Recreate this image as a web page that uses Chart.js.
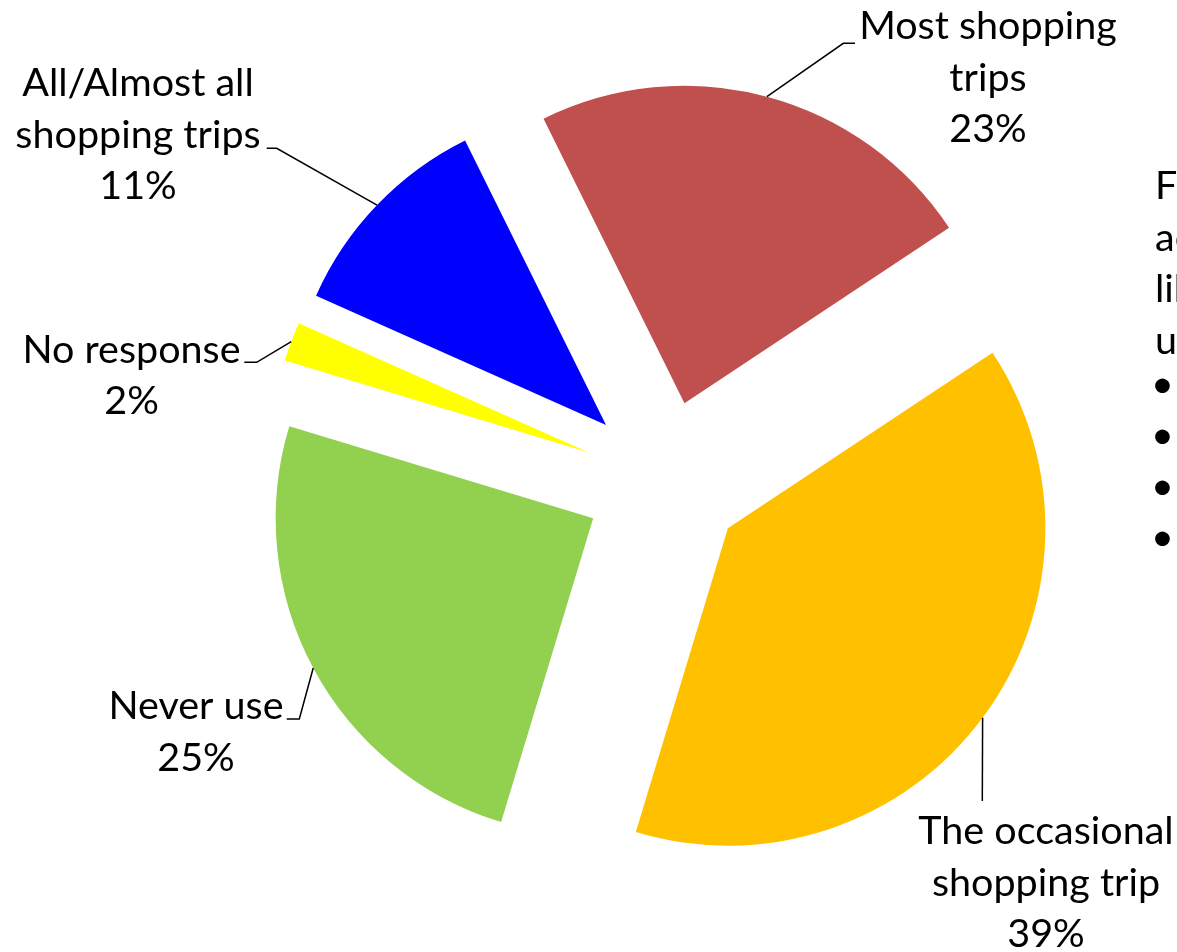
<!DOCTYPE html>
<html>
<head>
<meta charset="utf-8">
<title>Shopping trips</title>
<script src="https://cdn.jsdelivr.net/npm/chart.js@4.4.1/dist/chart.umd.min.js"></script>
<style>
  html, body { margin: 0; padding: 0; background: #fff; overflow: hidden; }
  #wrap { position: relative; width: 1177px; height: 952px; overflow: hidden; }
  #usageChart { position: absolute; left: 0; top: 0; }
  .side { position: absolute; left: 1155px; font: 39.5px Lato, "Open Sans", sans-serif; line-height: 51.5px; color: #000; white-space: nowrap; }
  #sideText { top: 158px; }
  #sideBullets { top: 356px; left: 1151px; line-height: 51px; }
</style>
</head>
<body>
<div id="wrap">
  <canvas id="usageChart" width="1177" height="952"></canvas>
  <div class="side" id="sideText">Fl<br>ac<br>lik<br>u</div>
  <div class="side" id="sideBullets">•<br>•<br>•<br>•</div>
</div>
<script>
const categories = ["All/Almost all shopping trips", "Most shopping trips", "The occasional shopping trip", "Never use", "No response"];
const shares = [11, 23, 39, 25, 2];
const sliceColors = ["#0000FF", "#C0504D", "#FFC000", "#92D050", "#FFFF00"];
// how each category name wraps in its label
const labelLines = [
  ["All/Almost all", "shopping trips"],
  ["Most shopping", "trips"],
  ["The occasional", "shopping trip"],
  ["Never use"],
  ["No response"]
];

// label placement: text centre x, first baseline y, leader line points after the slice anchor
const labelLayout = [
  { x: 138, y: 96, leader: [[276.7, 148.3], [266.7, 148.3]] },
  { x: 988, y: 39, leader: [[843.3, 43.3], [855, 43.3]] },
  { x: 1046, y: 844, leader: [[982.3, 801]] },
  { x: 196, y: 719, leader: [[299.3, 719], [286.7, 719]] },
  { x: 131.5, y: 362.7, leader: [[256.7, 362.3], [244.3, 362.3]] }
];
const labelFont = '39.5px Lato, "Open Sans", sans-serif';
const lineGap = 51.5;
const explodeDist = 80;

// pulls every slice out from the centre along its mid angle
const explodePlugin = {
  id: "explode",
  beforeDatasetDraw(chart, args) {
    const ctx = chart.ctx;
    args.meta.data.forEach(arc => {
      const mid = (arc.startAngle + arc.endAngle) / 2;
      ctx.save();
      ctx.translate(Math.cos(mid) * explodeDist, Math.sin(mid) * explodeDist);
      arc.draw(ctx);
      ctx.restore();
    });
    return false;
  }
};

// category + percent labels with leader lines
const labelPlugin = {
  id: "sliceLabels",
  afterDatasetsDraw(chart) {
    const ctx = chart.ctx;
    const meta = chart.getDatasetMeta(0);
    ctx.save();
    meta.data.forEach((arc, i) => {
      const mid = (arc.startAngle + arc.endAngle) / 2;
      const r = arc.outerRadius + explodeDist;
      const ax = arc.x + Math.cos(mid) * r;
      const ay = arc.y + Math.sin(mid) * r;
      const lay = labelLayout[i];

      ctx.beginPath();
      ctx.moveTo(ax, ay);
      lay.leader.forEach(p => ctx.lineTo(p[0], p[1]));
      ctx.strokeStyle = "#000";
      ctx.lineWidth = 1.5;
      ctx.stroke();

      ctx.font = labelFont;
      ctx.fillStyle = "#000";
      ctx.textAlign = "center";
      ctx.textBaseline = "alphabetic";
      const lines = labelLines[i].concat(shares[i] + "%");
      lines.forEach((t, k) => ctx.fillText(t, lay.x, lay.y + k * lineGap));
    });
    ctx.restore();
  }
};

let ctx = document.getElementById("usageChart").getContext("2d");
let usageChart = new Chart(ctx, {
  type: "pie",
  data: {
    labels: categories,
    datasets: [
      {
        data: shares,
        backgroundColor: sliceColors,
        borderWidth: 0,
      },
    ],
  },
  options: {
    responsive: false,
    animation: false,
    events: [],
    rotation: -65.95,
    radius: 317.5,
    layout: {
      padding: { left: 150.4, right: 0, top: 9, bottom: 0 },
    },
    plugins: {
      legend: { display: false },
      tooltip: { enabled: false },
    },
  },
  plugins: [explodePlugin, labelPlugin],
});
</script>
</body>
</html>
